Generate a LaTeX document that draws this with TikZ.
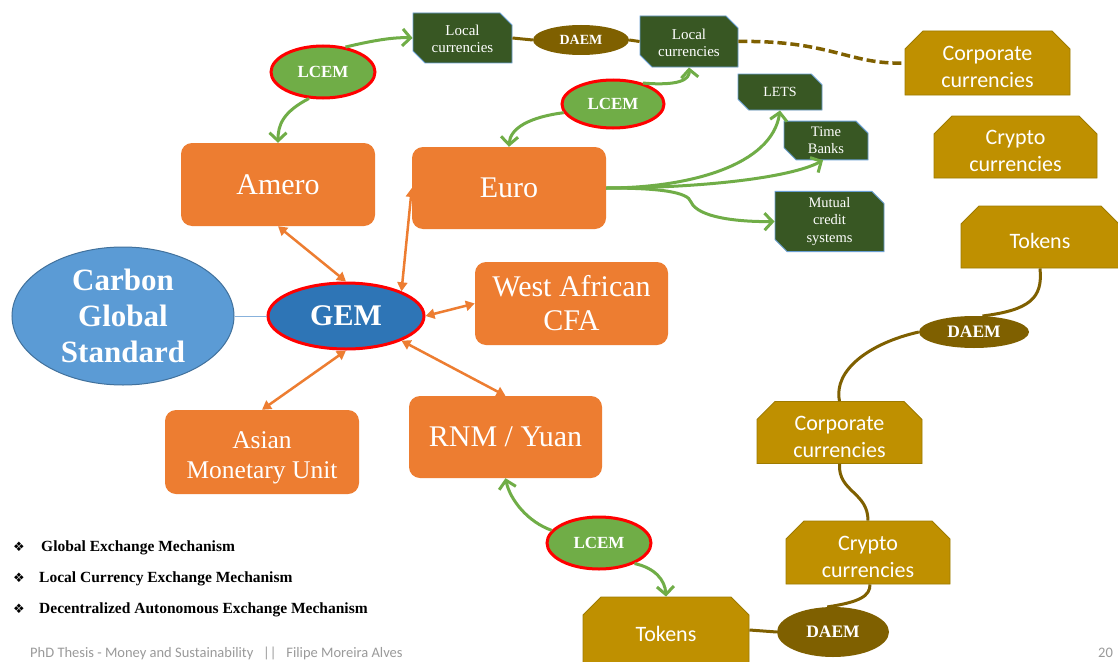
\documentclass[tikz,border=0pt]{standalone}
\usepackage{fontspec}
\setmainfont{Liberation Serif}
\newfontfamily\calibri{Carlito}
\newfontfamily\symfont{DejaVu Sans}
\usetikzlibrary{shapes.geometric,shapes.misc,arrows.meta}

\definecolor{orangebox}{HTML}{ED7D31}
\definecolor{leafgreen}{HTML}{70AD47}
\definecolor{forest}{HTML}{385723}
\definecolor{paleblue}{HTML}{6A9FD3}
\definecolor{gold}{HTML}{BF9000}
\definecolor{goldedge}{HTML}{9E7B00}
\definecolor{daembrown}{HTML}{7F6000}
\definecolor{skyblue}{HTML}{5B9BD5}
\definecolor{skyedge}{HTML}{41719C}
\definecolor{gemblue}{HTML}{2E75B6}
\definecolor{hotred}{HTML}{FF0000}
\definecolor{footgray}{HTML}{9A9A9A}

% invisible strut that lowers the text block inside its box
\newcommand\toppad[1]{\rule{0pt}{#1}}
% empty body that keeps the chamfers of the gold boxes in proportion
\newcommand\goldbody{\rule{0pt}{44pt}\hspace*{100pt}}

\tikzset{
  obox/.style={rectangle, rounded corners=11pt, fill=orangebox, text=white,
    inner sep=0pt, align=center, font=\fontsize{30}{34}\selectfont},
  gbox/.style={chamfered rectangle, chamfered rectangle corners={north east,south west},
    chamfered rectangle xsep=6pt, chamfered rectangle ysep=6pt,
    fill=forest, draw=paleblue, line width=0.9pt, text=white, align=center,
    inner sep=0pt, font=\fontsize{15}{17}\selectfont},
  ybox/.style={chamfered rectangle, chamfered rectangle corners={north west,north east},
    chamfered rectangle xsep=9pt, chamfered rectangle ysep=9pt,
    fill=gold, draw=goldedge, line width=0.9pt, inner sep=0pt},
  ytext/.style={text=white, align=center, inner sep=0pt, yshift=-4pt,
    font=\calibri\fontsize{22}{27}\selectfont},
  lcem/.style={ellipse, fill=leafgreen, draw=hotred, line width=3pt, text=white,
    inner sep=0pt, font=\bfseries\fontsize{17}{20}\selectfont},
  daem/.style={ellipse, fill=daembrown, text=white, inner sep=0pt,
    font=\bfseries\fontsize{17.5}{20}\selectfont},
  oarrow/.style={draw=orangebox, line width=2.5pt,
    {Triangle[length=9pt,width=10pt]}-{Triangle[length=9pt,width=10pt]}},
  garrow/.style={draw=leafgreen, line width=3pt,
    -{Straight Barb[length=8pt,width=17pt]}},
  bline/.style={draw=daembrown, line width=3pt},
  legend/.style={anchor=base west, inner sep=0pt, font=\bfseries\fontsize{15.5}{18}\selectfont},
  bullet/.style={anchor=base west, inner sep=0pt, font=\symfont\fontsize{13}{15}\selectfont},
  footer/.style={anchor=base west, inner sep=0pt, text=footgray,
    font=\calibri\fontsize{14.5}{16}\selectfont},
}

\begin{document}
\begin{tikzpicture}[x=1pt,y=-1pt]
\useasboundingbox (0,0) rectangle (1118,661);
\fill[white] (0,0) rectangle (1118,661);
\clip (0,0) rectangle (1118,661);

% central mechanism and the reference standard
\node[ellipse, fill=skyblue, draw=skyedge, line width=1pt, minimum width=222pt,
  minimum height=138pt, inner sep=0pt, text=white, align=center,
  font=\bfseries\fontsize{31}{36}\selectfont] (carbon) at (123,316)
  {Carbon\\Global\\Standard};
\node[ellipse, fill=gemblue, draw=hotred, line width=3pt, minimum width=156pt,
  minimum height=66pt, inner sep=0pt, text=white,
  font=\bfseries\fontsize{30}{34}\selectfont] (gem) at (346,316) {GEM};
\draw[draw=paleblue!80, line width=0.8pt] (carbon.east) -- (gem.west);

% regional currencies
\node[obox, minimum width=194pt, minimum height=83pt] (amero) at (278,184.5) {Amero};
\node[obox, minimum width=194pt, minimum height=82pt] (euro) at (509,188) {Euro};
\node[obox, minimum width=193pt, minimum height=83pt] (wa) at (571.5,303.5) {West African\\CFA};
\node[obox, minimum width=193pt, minimum height=82pt] (rnm) at (505.5,437) {RNM / Yuan};
\node[obox, minimum width=194pt, minimum height=84pt,
  font=\fontsize{25.5}{30}\selectfont] (asian) at (262,452) {\toppad{29pt}Asian\\Monetary Unit};

\draw[oarrow] (amero.south) -- (gem.north);
\draw[oarrow] (euro.west) -- (gem.24);
\draw[oarrow] (gem.east) -- (wa.west);
\draw[oarrow] (gem.-24) -- (rnm.north);
\draw[oarrow] (gem.south) -- (asian.north);

% local currency exchange mechanisms
\node[lcem, minimum width=104pt, minimum height=52pt] (lcem1) at (323,72) {LCEM};
\node[lcem, minimum width=102pt, minimum height=48pt] (lcem2) at (613,104) {LCEM};
\node[lcem, minimum width=104pt, minimum height=52pt] (lcem3) at (599,543) {LCEM};

% local and complementary currencies
\node[gbox, minimum width=99pt, minimum height=50pt] (local1) at (462.5,38) {\toppad{13pt}Local\\currencies};
\node[gbox, minimum width=98pt, minimum height=51pt] (local2) at (689,41.5) {\toppad{13pt}Local\\currencies};
\node[gbox, minimum width=84pt, minimum height=36pt, font=\fontsize{14}{16}\selectfont] (lets) at (780,92) {LETS};
\node[gbox, minimum width=84pt, minimum height=37pt, font=\fontsize{14.5}{17}\selectfont] (time) at (826,140.5) {Time\\Banks};
\node[gbox, minimum width=109pt, minimum height=57pt, font=\fontsize{14.5}{17.5}\selectfont] (mutual) at (829.5,221.5) {Mutual\\credit\\systems};

% decentralized currencies (shape and its centred caption)
\node[ybox, minimum width=165pt, minimum height=64pt,
  label={[ytext]center:{Corporate\\currencies}}] (corp1) at (987.5,63) {\goldbody};
\node[ybox, minimum width=163pt, minimum height=62pt,
  label={[ytext]center:{Crypto\\currencies}}] (crypto1) at (1015.5,147) {\goldbody};
\node[ybox, minimum width=158pt, minimum height=62pt,
  label={[ytext]center:Tokens}] (tokens2) at (1040,237) {\goldbody};
\node[ybox, minimum width=165pt, minimum height=61pt,
  label={[ytext]center:{Corporate\\currencies}}] (corp2) at (839.5,432.5) {\goldbody};
\node[ybox, minimum width=164pt, minimum height=63pt,
  label={[ytext]center:{Crypto\\currencies}}] (crypto2) at (868,552.5) {\goldbody};
\node[ybox, minimum width=166pt, minimum height=66pt,
  label={[ytext]center:Tokens}] (tokens3) at (666,630) {\goldbody};

% decentralized autonomous exchange mechanisms
\node[daem, minimum width=96pt, minimum height=30pt,
  font=\bfseries\fontsize{14}{16}\selectfont] (daem1) at (581,40) {DAEM};
\node[daem, minimum width=110pt, minimum height=32pt] (daem2) at (974,332) {DAEM};
\node[daem, minimum width=112pt, minimum height=50pt] (daem3) at (833,632) {DAEM};

% brown DAEM links
\draw[bline] (local1.east) -- (daem1.west);
\draw[bline] (daem1.east) -- (local2.west);
\draw[bline, line width=3.5pt, dash pattern=on 9pt off 4pt]
  (local2.east) .. controls (830,40) and (850,65) .. (corp1.west);
\draw[bline] (tokens2.south) .. controls (1043,298) and (1030,310) .. (daem2.62);
\draw[bline] (daem2.west) .. controls (870,343) and (833,370) .. (corp2.north);
\draw[bline] (corp2.south) .. controls (838,492) and (868,492) .. (crypto2.north);
\draw[bline] ([xshift=2pt]crypto2.south) .. controls (870,596) and (860,602) .. (daem3.103);
\draw[bline] (tokens3.east) -- (daem3.west);

% green LCEM links
\draw[garrow] (lcem1.48) .. controls (375,40) and (395,37) .. (local1.west);
\draw[garrow] (lcem1.-118) .. controls (283,112) and (278,125) .. (amero.north);
\draw[garrow] (lcem2.190) .. controls (530,117) and (510,128) .. (euro.north);
\draw[garrow] (lcem2.35) .. controls (678,86) and (690,80) .. (local2.south);
\draw[garrow] (lcem3.165) .. controls (528,522) and (510,500) .. (rnm.south);
\draw[garrow] (lcem3.-30) .. controls (655,568) and (665,580) .. (tokens3.north);

% Euro to community currencies
\draw[garrow] (euro.east) .. controls (690,188) and (772,165) .. (lets.south);
\draw[garrow] (euro.east) .. controls (700,188) and (790,178) .. ([xshift=-3pt]time.south);
\draw[garrow] (euro.east) .. controls (660,188) and (688,192) .. (691,202)
  .. controls (698,218) and (740,222) .. (mutual.west);

% legend
\node[bullet] (b1) at (13,551) {❖};
\node[legend] (t1) at (41,551) {Global Exchange Mechanism};
\node[bullet] (b2) at (13,582) {❖};
\node[legend] (t2) at (39,582) {Local Currency Exchange Mechanism};
\node[bullet] (b3) at (13,613) {❖};
\node[legend] (t3) at (39,613) {Decentralized Autonomous Exchange Mechanism};

% footer
\node[footer] (foot) at (30,657) {PhD Thesis - Money and Sustainability \ \ || \ \ Filipe Moreira Alves};
\node[footer] (page) at (1098,657) {20};
\end{tikzpicture}
\end{document}
